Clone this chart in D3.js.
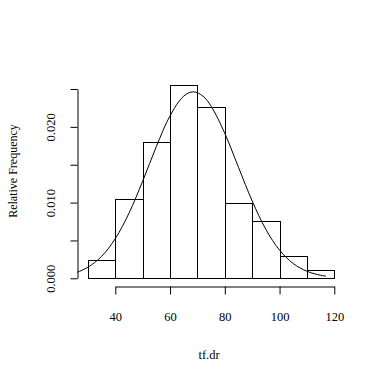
<!DOCTYPE html>
<html><head><meta charset="utf-8">
<script src="https://cdn.jsdelivr.net/npm/d3@7"></script>
<style>
body{margin:0;background:#fff;}
text{font-family:"Liberation Serif","Times New Roman",serif;font-size:12px;fill:#000;}
</style></head><body>
<script>
const breaks = [30, 40, 50, 60, 70, 80, 90, 100, 110, 120];
const density = [0.00238, 0.01047, 0.01796, 0.02549, 0.02258, 0.00990, 0.00753, 0.00291, 0.00114];
const curveX = [26, 30, 35, 40, 45, 50, 55, 60, 65, 68.5, 72, 75, 80, 85, 90, 95, 100, 105, 110, 115, 117];
const curveY = [0.00079, 0.00146, 0.00290, 0.00524, 0.00860, 0.01283, 0.01741, 0.02146, 0.02406, 0.02463, 0.02406, 0.02273, 0.01914, 0.01466, 0.01021, 0.00646, 0.00372, 0.00195, 0.00093, 0.00040, 0.00028];
const xTicks = [40, 60, 80, 100, 120];
const yTicks = [0, 0.005, 0.010, 0.015, 0.020, 0.025];
const yLabels = ["0.000", "", "0.010", "", "0.020", ""];
const xTitle = "tf.dr";
const yTitle = "Relative Frequency";

const W = 384, H = 383;
const svg = d3.select("body").append("svg").attr("width", W).attr("height", H);

const x = d3.scaleLinear().domain([40, 120]).range([115.3, 334.3]);
const y = d3.scaleLinear().domain([0, 0.025]).range([278.3, 89]);

// bars
const bins = density.map((d, i) => ({x0: breaks[i], x1: breaks[i + 1], d}));
svg.append("g").selectAll("rect").data(bins).join("rect")
  .attr("x", b => Math.round(x(b.x0)) + 0.5)
  .attr("y", b => Math.round(y(b.d)) + 0.5)
  .attr("width", b => Math.round(x(b.x1)) - Math.round(x(b.x0)))
  .attr("height", b => Math.round(y(0)) - Math.round(y(b.d)))
  .attr("fill", "none").attr("stroke", "#000").attr("stroke-width", 1);

// density curve
const line = d3.line().x((d, i) => x(curveX[i])).y(d => y(d)).curve(d3.curveCatmullRom);
svg.append("path").datum(curveY).attr("d", line)
  .attr("fill", "none").attr("stroke", "#000").attr("stroke-width", 1);

// y axis
const yAxis = d3.axisLeft(y).tickValues(yTicks).tickSize(7).tickSizeOuter(0)
  .tickFormat((d, i) => yLabels[i]);
const gy = svg.append("g").attr("transform", "translate(77.5,0)").call(yAxis);
gy.selectAll("text")
  .attr("transform", "rotate(-90)")
  .attr("x", 0).attr("y", -23).attr("dy", null)
  .attr("text-anchor", "middle");

// x axis
const xAxis = d3.axisBottom(x).tickValues(xTicks).tickSize(8).tickSizeOuter(0)
  .tickFormat(d3.format("d"));
const gx = svg.append("g").attr("transform", "translate(0,286.5)").call(xAxis);
gx.selectAll("text").attr("y", 30).attr("dy", "0.32em");

svg.selectAll(".domain, .tick line").attr("stroke", "#000").attr("stroke-width", 1);
svg.selectAll(".tick text").style("font-family", '"Liberation Serif","Times New Roman",serif').style("font-size", "12.5px").attr("fill", "#000");

// titles
svg.append("text").attr("x", 209).attr("y", 355).attr("dy", "0.32em")
  .attr("text-anchor", "middle").style("font-size", "12.5px").text(xTitle);
svg.append("text").attr("transform", "translate(16.5,171) rotate(-90)")
  .attr("text-anchor", "middle").text(yTitle);
</script>
</body></html>
